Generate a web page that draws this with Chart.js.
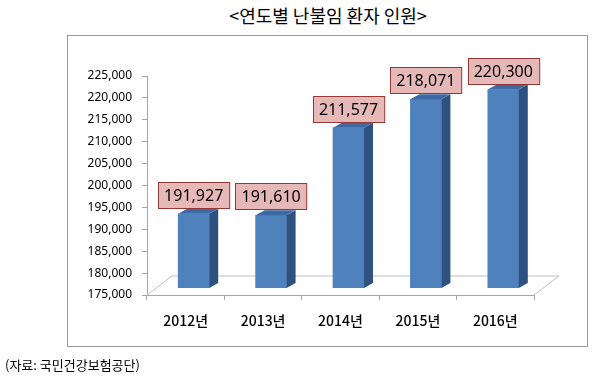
<!DOCTYPE html>
<html>
<head>
<meta charset="utf-8">
<script src="https://cdn.jsdelivr.net/npm/chart.js@4"></script>
<style>
  body { margin: 0; background: #fff; }
  #page { position: relative; width: 595px; height: 386px; overflow: hidden; }
  #title { position: absolute; left: 0; top: 2px; width: 656px; text-align: center;
    font: 18px "Noto Sans CJK KR", sans-serif; color: #000; }
  #frame { position: absolute; left: 67px; top: 35px; width: 519px; height: 310px; border: 1px solid #999; }
  #chart { position: absolute; left: 0; top: 0; }
  #source { position: absolute; left: 5px; top: 355px; font: 13px "Noto Sans CJK KR", sans-serif; color: #000; }
</style>
</head>
<body>
<div id="page">
  <div id="title">&lt;연도별 난불임 환자 인원&gt;</div>
  <div id="frame"></div>
  <canvas id="chart" width="595" height="386"></canvas>
  <div id="source">(자료: 국민건강보험공단)</div>
</div>
<script>
const years = ["2012년", "2013년", "2014년", "2015년", "2016년"];
const patients = [191927, 191610, 211577, 218071, 220300];
const axisMin = 175000;
const axisMax = 225000;
const axisStep = 5000;

// 3D look: bars sit a bit behind the front edge of the floor
const barShift = { x: 8, y: -7 };
const barDepth = { x: 9, y: -5 };
const floorDepth = { x: 25, y: -19 };

const threeD = {
  id: "threeD",
  beforeDatasetsDraw(chart) {
    const { ctx, chartArea } = chart;
    const b = chartArea.bottom;
    ctx.save();
    ctx.strokeStyle = "#bfbfbf";
    ctx.lineWidth = 1;
    ctx.beginPath();
    ctx.moveTo(chartArea.left, b);
    ctx.lineTo(chartArea.left + floorDepth.x, b + floorDepth.y);
    ctx.lineTo(chartArea.right + floorDepth.x, b + floorDepth.y);
    ctx.lineTo(chartArea.right, b);
    ctx.stroke();
    ctx.restore();
    ctx.save();
    ctx.translate(barShift.x, barShift.y);
  },
  afterDatasetsDraw(chart) {
    const { ctx, chartArea } = chart;
    const bars = chart.getDatasetMeta(0).data;
    const bt = chartArea.bottom;
    bars.forEach((bar, i) => {
      const half = bar.width / 2;
      const l = bar.x - half;
      const r = bar.x + half;
      const t = bar.y;
      ctx.fillStyle = "#2f5180";
      ctx.beginPath();
      ctx.moveTo(r, t);
      ctx.lineTo(r + barDepth.x, t + barDepth.y);
      ctx.lineTo(r + barDepth.x, bt + barDepth.y);
      ctx.lineTo(r, bt);
      ctx.closePath();
      ctx.fill();
      ctx.fillStyle = "#3d6aa3";
      ctx.beginPath();
      ctx.moveTo(l, t);
      ctx.lineTo(l + barDepth.x, t + barDepth.y);
      ctx.lineTo(r + barDepth.x, t + barDepth.y);
      ctx.lineTo(r, t);
      ctx.closePath();
      ctx.fill();

      // value label box
      const text = patients[i].toLocaleString("en-US");
      ctx.font = '16px "Noto Sans", sans-serif';
      const w = ctx.measureText(text).width + 12;
      const h = 26;
      const bx = Math.round(bar.x - w / 2) + 0.5;
      const by = Math.round(t - 6 - h) + 0.5;
      ctx.fillStyle = "#e6b9b8";
      ctx.fillRect(bx, by, w, h);
      ctx.strokeStyle = "#953735";
      ctx.lineWidth = 1;
      ctx.strokeRect(bx, by, w, h);
      ctx.fillStyle = "#000";
      ctx.textAlign = "center";
      ctx.textBaseline = "middle";
      ctx.fillText(text, bar.x, by + h / 2 + 1);
    });
    ctx.restore();
  }
};

new Chart(document.getElementById("chart"), {
  type: "bar",
  data: {
    labels: years,
    datasets: [{
      data: patients,
      backgroundColor: "#4f81bd",
      borderWidth: 0,
      barThickness: 31
    }]
  },
  options: {
    responsive: false,
    animation: false,
    devicePixelRatio: 1,
    layout: { padding: { left: 0, top: 76, right: 61, bottom: 0 } },
    plugins: { legend: { display: false }, tooltip: { enabled: false } },
    scales: {
      x: {
        grid: { drawOnChartArea: false, tickLength: 5, color: "#a6a6a6", offset: true },
        border: { color: "#a6a6a6" },
        ticks: { color: "#000", padding: 12, font: { family: '"Noto Sans CJK KR", sans-serif', size: 14, weight: "500" } },
        afterFit(scale) { scale.height = 91; }
      },
      y: {
        min: axisMin,
        max: axisMax,
        grid: { drawOnChartArea: false, tickLength: 5, color: "#a6a6a6" },
        border: { color: "#a6a6a6" },
        ticks: {
          stepSize: axisStep,
          color: "#000",
          padding: 10,
          font: { family: '"Noto Sans", sans-serif', size: 12 },
          callback: (v) => v.toLocaleString("en-US")
        },
        afterFit(scale) { scale.width = 147; }
      }
    }
  },
  plugins: [threeD]
});
</script>
</body>
</html>
